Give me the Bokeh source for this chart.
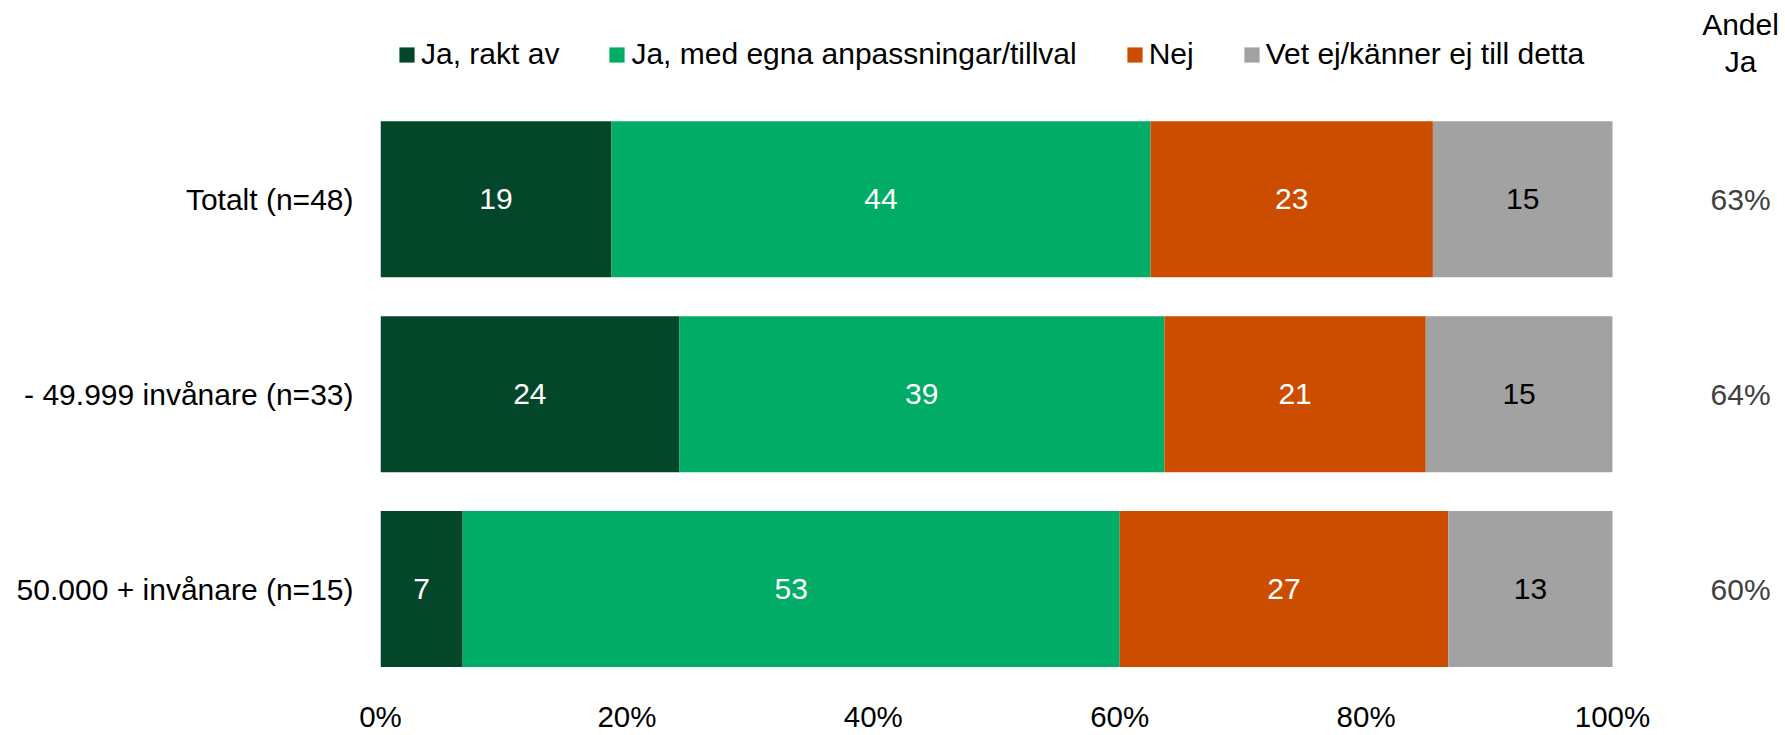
from bokeh.plotting import figure
from bokeh.models import (Range1d, ColumnDataSource, Legend, LegendItem, FixedTicker)
from bokeh.core.properties import value
from bokeh.embed import file_html
from bokeh.resources import INLINE

# ---------------- data ----------------
categories = ["Totalt (n=48)", "- 49.999 invånare (n=33)", "50.000 + invånare (n=15)"]
series_names = ["Ja, rakt av", "Ja, med egna anpassningar/tillval", "Nej",
                "Vet ej/känner ej till detta"]
ja_rakt = [18.75, 24.24, 6.67]
ja_med = [43.75, 39.39, 53.33]
nej = [22.92, 21.21, 26.67]
vet_ej = [14.58, 15.15, 13.33]
andel_ja = ["63%", "64%", "60%"]
andel_header = ["Andel", "Ja"]
x_ticks = [0, 20, 40, 60, 80, 100]
x_tick_labels = ["0%", "20%", "40%", "60%", "80%", "100%"]

# ---------------- style ----------------
colors = ["#03462A", "#00AC66", "#CC4C00", "#A2A2A2"]
label_colors = ["white", "white", "white", "black"]
FONT = "Liberation Sans"
FS = "30px"
ANDEL_X = 110.39

keys = ["ja_rakt", "ja_med", "nej", "vet_ej"]
series = [ja_rakt, ja_med, nej, vet_ej]
ypos = list(range(len(categories)))[::-1]   # first category on top
source = ColumnDataSource(dict(cat=categories, y=ypos, ja_rakt=ja_rakt, ja_med=ja_med,
                               nej=nej, vet_ej=vet_ej, andel=andel_ja))

p = figure(width=1785, height=735,
           y_range=Range1d(-0.5, 3.02),
           x_range=Range1d(0, 114.04),
           output_backend="svg", toolbar_location=None,
           min_border_left=380, min_border_right=0,
           min_border_top=0, min_border_bottom=48)

renderers = p.hbar_stack(keys, y="y", height=0.8, color=colors, line_color=None,
                         source=source)

# value labels inside segments
left = [0.0] * len(categories)
for vals, tc in zip(series, label_colors):
    mids = [l + v / 2 for l, v in zip(left, vals)]
    txt = [str(int(v + 0.5)) for v in vals]
    s = ColumnDataSource(dict(x=mids, y=ypos, t=txt))
    p.text(x="x", y="y", text="t", source=s, text_align="center",
           text_baseline="middle", text_color=tc,
           text_font=value(FONT), text_font_size=FS)
    left = [l + v for l, v in zip(left, vals)]

# Andel Ja column
p.text(x=ANDEL_X, y="y", text="andel", source=source, text_align="center",
       text_baseline="middle", text_color="#404040",
       text_font=value(FONT), text_font_size=FS)
hdr = ColumnDataSource(dict(t=andel_header, y=[2.8955, 2.7083]))
p.text(x=ANDEL_X, y="y", text="t", source=hdr, text_align="center",
       text_baseline="middle", text_color="black",
       text_font=value(FONT), text_font_size=FS)

legend = Legend(items=[LegendItem(label=n, renderers=[r])
                       for n, r in zip(series_names, renderers)],
                orientation="horizontal", location=(17, 615),
                padding=0, margin=0, spacing=48, label_standoff=5,
                glyph_width=19, glyph_height=19,
                border_line_color=None, background_fill_alpha=0,
                label_text_font=FONT, label_text_font_size=FS,
                label_text_color="black")
p.add_layout(legend)

p.xaxis.ticker = FixedTicker(ticks=x_ticks)
p.xaxis.major_label_overrides = {t: l for t, l in zip(x_ticks, x_tick_labels)}
p.yaxis.ticker = FixedTicker(ticks=ypos)
p.yaxis.major_label_overrides = {y: c for y, c in zip(ypos, categories)}
for ax in (p.xaxis, p.yaxis):
    ax.axis_line_color = None
    ax.major_tick_line_color = None
    ax.minor_tick_line_color = None
    ax.major_tick_out = 0
    ax.major_tick_in = 0
    ax.major_label_text_font = FONT
    ax.major_label_text_font_size = FS
    ax.major_label_text_color = "black"
p.xaxis.major_label_text_font_size = "29.5px"
p.xaxis.major_label_standoff = 13
p.yaxis.major_label_standoff = 27
p.xgrid.visible = False
p.ygrid.visible = False
p.outline_line_color = None

open("out.html", "w").write(file_html(p, INLINE))
